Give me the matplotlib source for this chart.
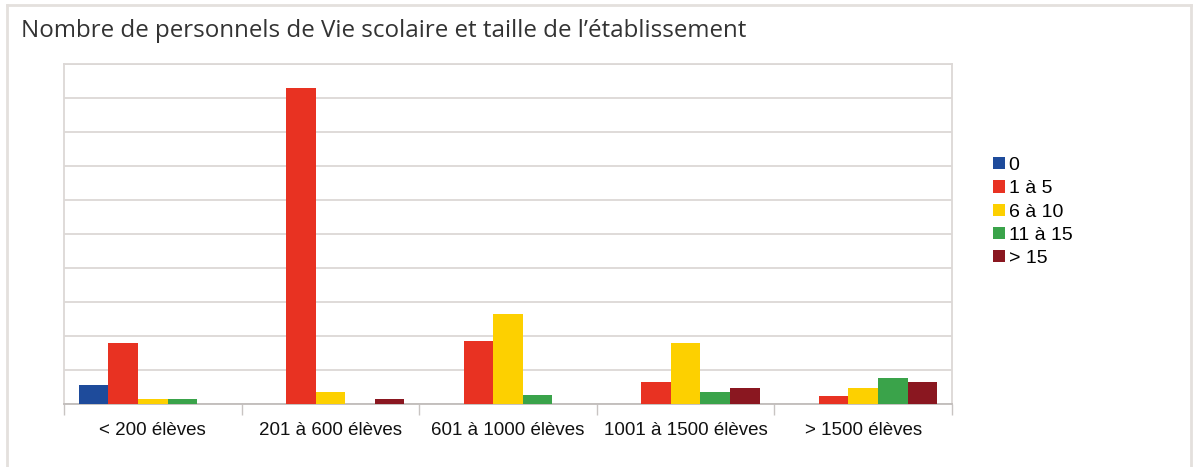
import matplotlib
matplotlib.use("Agg")
import matplotlib.pyplot as plt
from matplotlib.patches import Patch
from matplotlib.lines import Line2D
import numpy as np

categories = ["< 200 élèves", "201 à 600 élèves", "601 à 1000 élèves",
              "1001 à 1500 élèves", "> 1500 élèves"]
series_names = ["0", "1 à 5", "6 à 10", "11 à 15", "> 15"]
s_0 = [5.5, 0, 0, 0, 0]
s_1_5 = [18, 93, 18.5, 6.5, 2.5]
s_6_10 = [1.4, 3.6, 26.5, 18, 4.6]
s_11_15 = [1.5, 0, 2.6, 3.6, 7.6]
s_15p = [0, 1.5, 0, 4.6, 6.6]
series = [s_0, s_1_5, s_6_10, s_11_15, s_15p]
colors = ["#1e4b9b", "#e83222", "#fdd000", "#3aa34a", "#8a1720"]

W, H = 1195, 467
fig = plt.figure(figsize=(W / 100, H / 100), dpi=100)
fig.patch.set_facecolor("white")

# outer frame
frame_c = "#e4e0dd"
fig.add_artist(Line2D([7 / W, 7 / W], [0, 1 - 5 / H], color=frame_c, lw=2, transform=fig.transFigure))
fig.add_artist(Line2D([7 / W, 1191 / W], [1 - 5 / H, 1 - 5 / H], color=frame_c, lw=2, transform=fig.transFigure))
fig.add_artist(Line2D([1191 / W, 1191 / W], [0, 1 - 5 / H], color=frame_c, lw=2, transform=fig.transFigure))

fig.text(21 / W, 1 - 31 / H, "Nombre de personnels de Vie scolaire et taille de l\u2019établissement",
         fontsize=17.4, family="Open Sans", color="#333333", va="center", ha="left")

ax = fig.add_axes([64 / W, 1 - 404 / H, (952 - 64) / W, (404 - 64) / H])
x = np.arange(len(categories))
bw = 1 / 6
for i, (vals, c) in enumerate(zip(series, colors)):
    ax.bar(x + (i - 2) * bw, vals, width=bw, color=c, zorder=3, linewidth=0)

ax.set_xlim(-0.5, len(categories) - 0.5)
ax.set_ylim(0, 100)
ax.set_yticks(np.arange(0, 101, 10))
ax.yaxis.grid(True, color="#dcd8d6", lw=1.3, zorder=0)
ax.tick_params(axis="y", length=0, labelleft=False)
ax.set_xticks(x)
ax.set_xticklabels(categories, family="Liberation Sans", fontsize=13.5, color="#111111")
ax.set_xticks(np.arange(-0.5, len(categories)), minor=True)
ax.tick_params(axis="x", which="major", length=0, pad=13)
ax.tick_params(axis="x", which="minor", length=8, color="#c8c4c2", width=1)
for s in ["top", "left", "right"]:
    ax.spines[s].set_color("#dcd8d6")
    ax.spines[s].set_linewidth(1.3)
ax.spines["bottom"].set_color("#c0bcba")
ax.spines["bottom"].set_linewidth(1.3)

handles = [Patch(facecolor=c, edgecolor="none", label=n) for c, n in zip(colors, series_names)]
fig.legend(handles=handles, loc="upper left", bbox_to_anchor=(993 / W, 1 - 157 / H),
           frameon=False, prop={"family": "Liberation Sans", "size": 14},
           handlelength=0.6, handleheight=0.6, handletextpad=0.2, labelspacing=0.32,
           borderpad=0, borderaxespad=0)

fig.savefig("out.png", dpi=100, facecolor="white")
